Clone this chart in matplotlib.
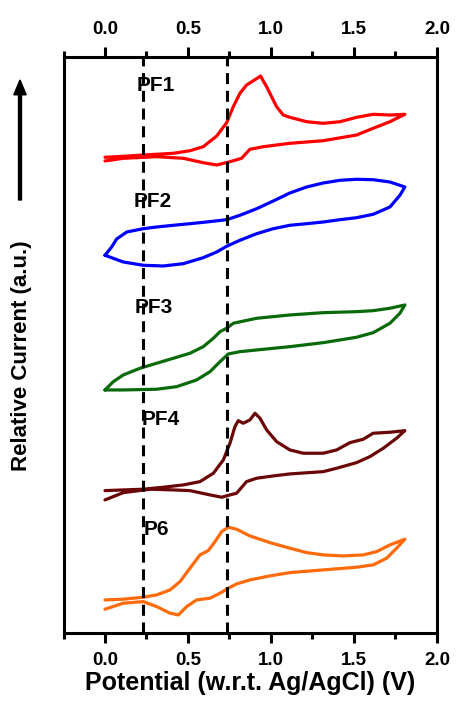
"""
Cyclic voltammograms of the PF1-PF4 and P6 films, stacked with offsets.
"""

import matplotlib.pyplot as plt
from matplotlib.patches import FancyArrow

# Potential (V vs Ag/AgCl) and relative current (a.u.) for each scan.
# Each loop runs forward from 0 V to 1.8 V, then back to 0 V.
pf1_v = [0.000, 0.110, 0.231, 0.412, 0.512, 0.592, 0.673, 0.733, 0.773, 0.813,
         0.853, 0.894, 0.938, 0.954, 0.974, 1.034, 1.074, 1.114, 1.215, 1.315,
         1.416, 1.516, 1.616, 1.717, 1.807,
         1.717, 1.616, 1.516, 1.315, 1.114, 0.954, 0.873, 0.823, 0.753, 0.673,
         0.592, 0.472, 0.311, 0.110, 0.000]
pf1_i = [7.7, 8.7, 10.0, 11.7, 14.3, 18.3, 29.0, 42.3, 58.3, 71.7,
         80.0, 84.3, 89.0, 84.0, 78.3, 58.3, 50.0, 47.7, 43.3, 41.7,
         43.3, 47.7, 50.7, 50.0, 50.7,
         43.3, 36.7, 30.0, 24.3, 21.7, 18.3, 15.7, 6.7, 3.3, 0.0,
         2.3, 6.7, 8.3, 6.7, 4.0]

pf2_v = [0.000, 0.040, 0.070, 0.131, 0.231, 0.311, 0.412, 0.512, 0.612, 0.733,
         0.813, 0.914, 1.014, 1.114, 1.215, 1.315, 1.416, 1.516, 1.616, 1.717,
         1.807,
         1.777, 1.717, 1.616, 1.516, 1.416, 1.315, 1.215, 1.114, 1.014, 0.914,
         0.813, 0.733, 0.673, 0.592, 0.472, 0.351, 0.231, 0.110, 0.000]
pf2_i = [11.7, 20.0, 28.0, 35.0, 38.3, 40.0, 41.7, 43.3, 45.0, 47.3,
         51.7, 58.3, 66.0, 74.0, 80.0, 84.0, 86.7, 87.7, 87.3, 85.0,
         80.0,
         71.7, 60.0, 52.7, 49.3, 47.3, 45.0, 43.3, 41.7, 38.3, 33.3,
         26.7, 20.7, 15.0, 9.3, 3.3, 1.0, 1.7, 5.0, 11.7]

pf3_v = [0.000, 0.050, 0.110, 0.211, 0.311, 0.412, 0.512, 0.592, 0.653, 0.693,
         0.733, 0.773, 0.914, 1.114, 1.315, 1.516, 1.616, 1.717, 1.807,
         1.777, 1.717, 1.616, 1.516, 1.315, 1.114, 0.914, 0.813, 0.743, 0.693,
         0.633, 0.552, 0.432, 0.311, 0.110, 0.000]
pf3_i = [0.0, 8.3, 15.0, 21.7, 26.7, 31.7, 36.7, 43.3, 51.7, 58.3,
         61.7, 66.7, 71.7, 75.0, 77.3, 78.3, 79.3, 81.7, 85.0,
         76.7, 66.7, 57.3, 52.7, 47.3, 43.3, 40.0, 38.3, 36.0, 28.3,
         18.3, 10.0, 3.3, 0.7, 0.0, 0.0]

pf4_v = [0.000, 0.110, 0.231, 0.351, 0.472, 0.572, 0.653, 0.713, 0.753, 0.783,
         0.803, 0.833, 0.873, 0.904, 0.934, 0.974, 1.034, 1.114, 1.195, 1.315,
         1.396, 1.476, 1.556, 1.616, 1.717, 1.807,
         1.757, 1.677, 1.596, 1.516, 1.396, 1.315, 1.114, 1.014, 0.914, 0.853,
         0.793, 0.753, 0.703, 0.633, 0.512, 0.412, 0.271, 0.110, 0.000]
pf4_i = [9.3, 10.0, 10.7, 12.7, 15.0, 18.3, 26.7, 40.0, 56.7, 73.3,
         79.3, 76.7, 80.0, 86.7, 81.7, 70.0, 58.3, 50.0, 46.7, 46.7,
         50.0, 57.3, 60.7, 66.7, 67.7, 69.3,
         61.7, 51.7, 43.3, 37.3, 31.7, 28.3, 26.0, 24.0, 21.7, 18.3,
         6.7, 5.0, 2.7, 5.0, 9.3, 10.0, 10.7, 7.3, 0.0]

p6_v = [0.000, 0.110, 0.231, 0.311, 0.392, 0.452, 0.512, 0.572, 0.622, 0.663,
        0.703, 0.743, 0.793, 0.873, 0.994, 1.114, 1.215, 1.315, 1.436, 1.556,
        1.637, 1.717, 1.807,
        1.757, 1.697, 1.616, 1.516, 1.315, 1.114, 0.994, 0.873, 0.793, 0.743,
        0.693, 0.633, 0.552, 0.492, 0.442, 0.392, 0.311, 0.231, 0.110, 0.000]
p6_i = [15.0, 15.7, 17.7, 20.0, 25.0, 33.3, 46.7, 60.0, 64.3, 73.3,
        83.3, 87.7, 85.7, 79.0, 72.3, 66.7, 62.3, 60.0, 59.0, 60.0,
        63.3, 70.0, 75.7,
        66.7, 56.7, 50.0, 47.7, 45.0, 42.3, 39.0, 35.0, 31.0, 26.7,
        21.7, 16.7, 15.0, 8.3, 0.0, 1.7, 8.3, 13.3, 11.7, 5.7]

names = ["PF1", "PF2", "PF3", "PF4", "P6"]
colors = ["#ff0000", "#0000ff", "#0a6a0a", "#6a0606", "#ff6a0a"]
offsets = [468, 366, 243, 133, 18]
label_pos = [(0.19, 548), (0.17, 431), (0.18, 325), (0.22, 213), (0.235, 103)]
marker_potentials = [0.227, 0.733]

FONT = "Liberation Sans"


def create_plot(output_path):
    fig = plt.figure(figsize=(4.57, 7.04), dpi=100)
    ax = fig.add_axes([0.139, 0.101, 0.817, 0.818])

    scans = [(pf1_v, pf1_i), (pf2_v, pf2_i), (pf3_v, pf3_i),
             (pf4_v, pf4_i), (p6_v, p6_i)]
    for (v, cur), name, color, off, pos in zip(scans, names, colors, offsets, label_pos):
        ax.plot(v, [c + off for c in cur], color=color, lw=2.3,
                solid_joinstyle="round", solid_capstyle="round")
        ax.text(pos[0], pos[1], name, fontsize=15, fontweight="bold",
                family=FONT, ha="left", va="center")

    for x in marker_potentials:
        ax.axvline(x, color="black", lw=2.2, dashes=(3.6, 2.2))

    ax.set_xlim(-0.25, 2.0)
    ax.set_ylim(0, 576)
    ax.set_xticks([0.0, 0.5, 1.0, 1.5, 2.0])
    ax.set_xticks([-0.25, 0.25, 0.75, 1.25, 1.75], minor=True)
    ax.set_yticks([])
    ax.tick_params(axis="x", which="both", direction="out", top=True,
                   labeltop=True, width=2.2, pad=7)
    ax.tick_params(axis="x", which="major", length=7)
    ax.tick_params(axis="x", which="minor", length=4)
    for lab in ax.get_xticklabels():
        lab.set_fontfamily(FONT)
        lab.set_fontweight("bold")
        lab.set_fontsize(13.5)
    for spine in ax.spines.values():
        spine.set_linewidth(2.2)

    ax.set_xlabel("Potential (w.r.t. Ag/AgCl) (V)", fontsize=18,
                  fontweight="bold", family=FONT, labelpad=1)

    fig.text(22 / 457, 1 - 356 / 704, "Relative Current (a.u.)", rotation=90,
             fontsize=16, fontweight="bold", family=FONT,
             ha="center", va="center")
    fig.add_artist(FancyArrow(
        20 / 457, 1 - 200 / 704, 0, (200 - 80) / 704, width=0.0065,
        head_width=0.027, head_length=0.021, length_includes_head=True,
        color="black", transform=fig.transFigure))

    fig.savefig(output_path, dpi=100)
    plt.close(fig)


def main():
    create_plot("out.png")


if __name__ == "__main__":
    main()
